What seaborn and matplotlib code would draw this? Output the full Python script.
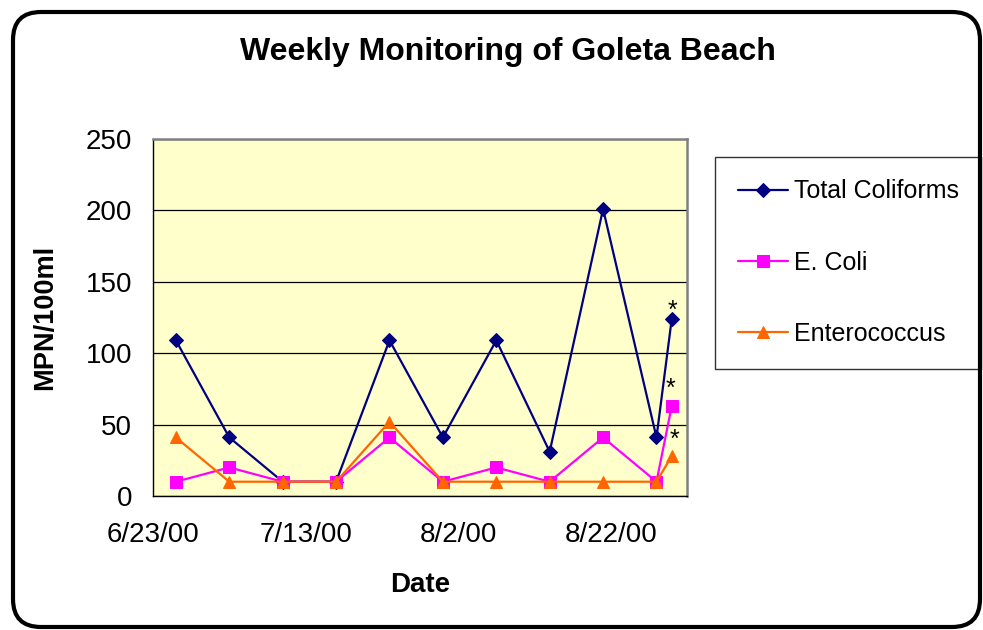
import pandas as pd
import numpy as np
import matplotlib
matplotlib.use('Agg')
import matplotlib.pyplot as plt
from matplotlib.patches import FancyBboxPatch
from matplotlib.transforms import IdentityTransform
import seaborn as sns

# ── Data ───────────────────────────────────────────────────────────────────────
sample_dates = ['2000-06-26', '2000-07-03', '2000-07-10', '2000-07-17',
                '2000-07-24', '2000-07-31', '2000-08-07', '2000-08-14',
                '2000-08-21', '2000-08-28', '2000-08-30']
total_coliforms = [109, 41, 10, 10, 109, 41, 109, 31, 201, 41, 124]
e_coli = [10, 20, 10, 10, 41, 10, 20, 10, 41, 10, 63]
enterococcus = [41, 10, 10, 10, 52, 10, 10, 10, 10, 10, 28]

series_names = ['Total Coliforms', 'E. Coli', 'Enterococcus']
series_colors = ['#000080', '#FF00FF', '#FF6600']
series_markers = ['D', 's', '^']
marker_sizes = [6.8, 8.4, 9.0]

x_ticks = ['2000-06-23', '2000-07-13', '2000-08-02', '2000-08-22']
x_range = ['2000-06-23', '2000-09-01']
y_ticks = [0, 50, 100, 150, 200, 250]

# ── Build table ────────────────────────────────────────────────────────────────
df = pd.DataFrame({'Date': pd.to_datetime(sample_dates),
                   'Total Coliforms': total_coliforms,
                   'E. Coli': e_coli,
                   'Enterococcus': enterococcus})
long_df = df.melt(id_vars='Date', var_name='Series', value_name='MPN')

# ── Plot ───────────────────────────────────────────────────────────────────────
sns.set_theme(style='white')
plt.rcParams['font.family'] = ['Liberation Sans', 'DejaVu Sans']
plt.rcParams['text.color'] = 'black'
plt.rcParams['axes.labelcolor'] = 'black'
plt.rcParams['xtick.color'] = 'black'
plt.rcParams['ytick.color'] = 'black'

W, H = 983, 630
fig = plt.figure(figsize=(W / 100, H / 100), dpi=100)
ax = fig.add_axes([153 / W, (H - 496) / H, (687 - 153) / W, (496 - 139) / H])
ax.set_facecolor('#FFFFCC')

for name, color, marker, ms in zip(series_names, series_colors,
                                   series_markers, marker_sizes):
    sub = long_df[long_df['Series'] == name]
    sns.lineplot(data=sub, x='Date', y='MPN', ax=ax, color=color,
                 marker=marker, markersize=ms, markeredgecolor=color,
                 linewidth=1.6, label=name, zorder=3)

# asterisks on the last (provisional) samples
last_date = pd.to_datetime(sample_dates[-1])
ast_offsets = [(0.5, 6), (-0.8, 12.5), (2.2, 11.5)]
for vals, off in zip([total_coliforms, e_coli, enterococcus], ast_offsets):
    ax.annotate('*', xy=(last_date, vals[-1]), xytext=off,
                textcoords='offset points', ha='center', va='center',
                fontsize=18, color='black', zorder=4)

ax.set_xlim(pd.to_datetime(x_range[0]), pd.to_datetime(x_range[1]))
ax.set_ylim(y_ticks[0], y_ticks[-1])
ax.set_yticks(y_ticks)
xt = pd.to_datetime(x_ticks)
ax.set_xticks(xt)
ax.set_xticklabels([f'{d.month}/{d.day}/{d:%y}' for d in xt])

ax.yaxis.grid(True, color='black', linewidth=0.9)
ax.xaxis.grid(False)
ax.set_axisbelow(True)

for side in ['top', 'right']:
    ax.spines[side].set_color('#808080')
    ax.spines[side].set_linewidth(1.8)
for side in ['left', 'bottom']:
    ax.spines[side].set_color('black')
    ax.spines[side].set_linewidth(1.0)

ax.tick_params(axis='both', which='major', direction='out', length=5.5,
               width=1, color='black', labelsize=20)
ax.tick_params(axis='y', pad=9.5)
ax.tick_params(axis='x', pad=13)

ax.set_xlabel('Date', fontsize=20, fontweight='bold', va='center')
ax.xaxis.set_label_coords(0.5, -(585 - 496) / (496 - 139))
ax.set_ylabel('MPN/100ml', fontsize=19.5, fontweight='bold', va='center')
ax.yaxis.set_label_coords((45 - 153) / (687 - 153), 0.5)

fig.text(507.5 / W, 1 - 52 / H, 'Weekly Monitoring of Goleta Beach',
         ha='center', va='center', fontsize=23, fontweight='bold')

leg = ax.legend(loc='upper left', bbox_to_anchor=(715 / W, 1 - 157 / H),
                bbox_transform=fig.transFigure, fontsize=18,
                frameon=True, fancybox=False, edgecolor='black',
                handlelength=2.0, labelspacing=1.89, borderpad=0.9,
                handletextpad=0.25, borderaxespad=0)
leg.get_frame().set_linewidth(1.0)

# rounded outer border of the chart
border = FancyBboxPatch((13, 3), 967, 615,
                        boxstyle='round,pad=0,rounding_size=28',
                        transform=IdentityTransform(), fill=False,
                        edgecolor='black', linewidth=3)
fig.patches.append(border)

fig.savefig('out.png', dpi=100)
